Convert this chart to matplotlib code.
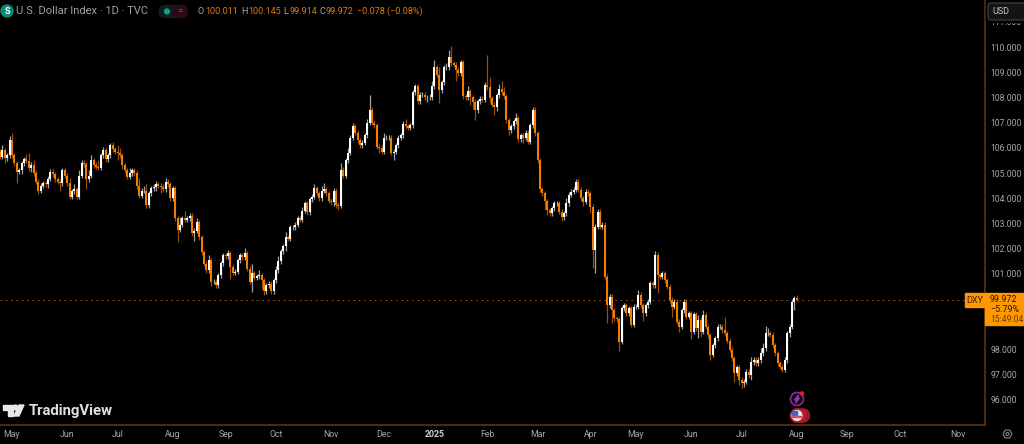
import matplotlib
matplotlib.use('Agg')
import matplotlib.pyplot as plt
from matplotlib.patches import Circle, FancyBboxPatch, Polygon, Rectangle
import numpy as np

plt.rcParams['font.family'] = ['Roboto', 'DejaVu Sans']

# Daily closes (DXY)
closes = [
    105.65, 105.9, 105.58, 105.7, 106.3, 105.7, 105.38, 105.05, 105.1, 105.38,
    105.55, 105.48, 105.18, 105.32, 105.0, 104.65, 104.3, 104.5, 104.6, 104.55,
    104.78, 105.05, 104.95, 104.75, 104.65, 104.6, 105.1, 104.9, 104.6, 104.05,
    104.28, 104.35, 104.06, 104.9, 105.4, 105.35, 104.75, 104.9, 105.5, 105.3,
    105.25, 105.2, 105.7, 105.9, 105.55, 105.7, 106.1, 105.95, 105.85, 105.8,
    105.7, 105.3, 105.1, 104.85, 105.0, 105.1, 105.0, 104.5, 104.1, 104.3,
    104.3, 103.72, 104.2, 104.4, 104.45, 104.55, 104.5, 104.45, 104.35, 104.65,
    104.55, 104.0, 104.4, 103.2, 102.75, 102.95, 103.2, 103.15, 103.2, 103.3,
    102.6, 102.7, 103.05, 102.45, 101.85, 101.39, 101.15, 101.54, 100.68, 100.68,
    100.55, 100.95, 101.41, 101.74, 101.7, 101.81, 101.28, 101.04, 101.08, 101.54,
    101.74, 101.65, 101.81, 101.21, 100.68, 101.02, 100.85, 100.9, 100.95, 100.75,
    100.3, 100.55, 100.6, 100.3, 100.75, 101.15, 101.5, 101.9, 102.1, 102.45,
    102.4, 102.85, 102.85, 102.95, 103.2, 103.15, 103.5, 103.8, 103.45, 103.95,
    104.05, 104.4, 104.2, 104.0, 104.3, 104.35, 104.2, 103.9, 103.85, 104.3,
    103.75, 103.7, 105.1, 104.9, 105.5, 105.8, 106.4, 106.85, 106.6, 106.3,
    106.1, 106.2, 106.5, 107.0, 107.5, 107.0, 106.9, 106.05, 106.0, 105.85,
    106.4, 106.4, 106.4, 105.8, 105.85, 106.1, 106.4, 106.5, 106.95, 106.85,
    106.8, 106.9, 108.2, 108.45, 107.85, 108.1, 108.1, 108.0, 108.0, 108.0,
    108.45, 109.2, 108.9, 108.29, 108.6, 109.2, 109.2, 109.6, 109.35, 109.3,
    109.1, 108.95, 109.4, 108.05, 108.0, 108.25, 108.0, 107.83, 107.5, 107.85,
    107.95, 107.9, 108.5, 108.4, 107.96, 107.7, 107.6, 108.09, 108.35, 108.2,
    108.05, 107.1, 106.7, 106.85, 107.05, 107.17, 106.35, 106.5, 106.4, 106.6,
    106.25, 106.9, 107.5, 106.57, 105.5, 104.35, 104.2, 103.87, 103.53, 103.4,
    103.6, 103.8, 103.8, 103.47, 103.24, 103.4, 103.8, 104.13, 104.26, 104.33,
    104.66, 104.33, 103.99, 103.86, 104.26, 104.2, 103.66, 101.95, 102.87, 103.47,
    102.87, 102.95, 100.89, 99.76, 100.09, 99.56, 99.23, 99.2, 98.3, 99.63,
    99.76, 99.43, 99.63, 98.97, 99.7, 99.7, 100.16, 99.76, 99.43, 99.76,
    99.9, 100.62, 100.55, 101.75, 100.95, 100.89, 101.02, 100.75, 100.49, 99.96,
    99.7, 99.9, 99.1, 98.9, 99.56, 99.9, 99.3, 99.43, 98.7, 99.4,
    98.84, 99.17, 98.7, 99.37, 98.9, 98.57, 97.78, 98.17, 98.44, 98.9,
    98.9, 98.77, 98.64, 98.35, 97.98, 97.65, 97.05, 97.3, 96.79, 96.65,
    96.72, 97.12, 96.98, 97.5, 97.58, 97.45, 97.58, 97.84, 98.04, 98.64,
    98.64, 98.58, 98.17, 97.84, 97.45, 97.32, 97.19, 97.58, 98.64, 98.9,
    99.9, 100.03, 99.97,
]
first_open = 105.85

# Wick lengths above / below the body, same order as closes
upper_wicks = [
    0.1, 0.2, 0.1, 0.1, 0.15, 0.3, 0.1, 0.1, 0.1, 0.1,
    0.1, 0.2, 0.3, 0.1, 0.2, 0.1, 0.1, 0.1, 0.1, 0.1,
    0.1, 0.1, 0.1, 0.1, 0.1, 0.1, 0.1, 0.1, 0.1, 0.2,
    0.1, 0.2, 0.1, 0.2, 0.1, 0.1, 0.1, 0.2, 0.2, 0.1,
    0.15, 0.25, 0.1, 0.15, 0.1, 0.1, 0.1, 0.15, 0.1, 0.25,
    0.2, 0.1, 0.1, 0.1, 0.2, 0.1, 0.1, 0.1, 0.3, 0.1,
    0.2, 0.25, 0.1, 0.1, 0.1, 0.15, 0.1, 0.1, 0.1, 0.15,
    0.1, 0.1, 0.1, 0.1, 0.1, 0.3, 0.1, 0.3, 0.1, 0.1,
    0.1, 0.1, 0.15, 0.1, 0.1, 0.1, 0.1, 0.2, 0.1, 0.1,
    0.1, 0.1, 0.1, 0.1, 0.1, 0.15, 0.1, 0.1, 0.1, 0.1,
    0.1, 0.1, 0.2, 0.1, 0.1, 0.35, 0.1, 0.1, 0.2, 0.1,
    0.1, 0.1, 0.1, 0.1, 0.1, 0.15, 0.2, 0.1, 0.1, 0.2,
    0.1, 0.1, 0.1, 0.1, 0.1, 0.1, 0.15, 0.1, 0.1, 0.1,
    0.1, 0.15, 0.1, 0.1, 0.2, 0.25, 0.1, 0.1, 0.1, 0.1,
    0.1, 0.1, 0.3, 0.15, 0.1, 0.2, 0.1, 0.15, 0.1, 0.1,
    0.1, 0.1, 0.1, 0.15, 0.6, 0.1, 0.1, 0.1, 0.1, 0.1,
    0.2, 0.1, 0.1, 0.1, 0.1, 0.1, 0.1, 0.1, 0.1, 0.2,
    0.1, 0.1, 0.1, 0.1, 0.1, 0.1, 0.1, 0.1, 0.1, 0.15,
    0.2, 0.3, 0.1, 0.3, 0.1, 0.1, 0.15, 0.3, 0.45, 0.1,
    0.1, 0.1, 0.1, 0.1, 0.1, 0.2, 0.1, 0.1, 0.1, 0.1,
    0.1, 0.1, 0.1, 1.2, 0.4, 0.1, 0.1, 0.1, 0.2, 0.3,
    0.2, 0.1, 0.1, 0.1, 0.1, 0.2, 0.1, 0.1, 0.1, 0.1,
    0.1, 0.1, 0.1, 0.1, 0.1, 0.1, 0.1, 0.1, 0.1, 0.1,
    0.1, 0.1, 0.1, 0.1, 0.1, 0.1, 0.2, 0.1, 0.1, 0.1,
    0.1, 0.1, 0.1, 0.1, 0.1, 0.1, 0.1, 0.1, 0.1, 0.1,
    0.1, 0.1, 0.1, 0.1, 0.1, 0.1, 0.1, 0.1, 0.1, 0.1,
    0.1, 0.1, 0.1, 0.1, 0.1, 0.1, 0.2, 0.1, 0.1, 0.1,
    0.1, 0.1, 0.1, 0.15, 0.1, 0.1, 0.1, 0.1, 0.1, 0.1,
    0.1, 0.1, 0.1, 0.1, 0.1, 0.1, 0.1, 0.1, 0.1, 0.1,
    0.1, 0.2, 0.1, 0.2, 0.1, 0.1, 0.1, 0.1, 0.1, 0.1,
    0.1, 0.1, 0.5, 0.1, 0.1, 0.1, 0.1, 0.1, 0.1, 0.1,
    0.1, 0.1, 0.1, 0.2, 0.1, 0.1, 0.1, 0.2, 0.2, 0.3,
    0.2, 0.1, 0.1, 0.1, 0.1, 0.1, 0.1, 0.1, 0.1, 0.1,
    0.1, 0.1, 0.14,
]
lower_wicks = [
    0.1, 0.1, 0.2, 0.1, 0.1, 0.1, 0.1, 0.45, 0.1, 0.15,
    0.1, 0.1, 0.1, 0.15, 0.1, 0.1, 0.15, 0.1, 0.1, 0.1,
    0.15, 0.1, 0.1, 0.1, 0.1, 0.3, 0.1, 0.1, 0.1, 0.1,
    0.1, 0.1, 0.1, 0.1, 0.1, 0.1, 0.4, 0.1, 0.1, 0.1,
    0.1, 0.1, 0.1, 0.1, 0.1, 0.1, 0.1, 0.1, 0.1, 0.3,
    0.1, 0.15, 0.1, 0.1, 0.1, 0.1, 0.1, 0.15, 0.1, 0.1,
    0.1, 0.1, 0.1, 0.1, 0.1, 0.15, 0.1, 0.25, 0.1, 0.1,
    0.1, 0.1, 0.1, 0.1, 0.5, 0.1, 0.1, 0.1, 0.1, 0.1,
    0.1, 0.3, 0.1, 0.1, 0.1, 0.1, 0.1, 0.1, 0.15, 0.1,
    0.1, 0.1, 0.1, 0.1, 0.1, 0.1, 0.5, 0.1, 0.1, 0.1,
    0.1, 0.1, 0.1, 0.1, 0.1, 0.4, 0.1, 0.1, 0.1, 0.35,
    0.15, 0.1, 0.1, 0.1, 0.1, 0.1, 0.1, 0.1, 0.1, 0.2,
    0.1, 0.1, 0.1, 0.1, 0.1, 0.1, 0.1, 0.1, 0.1, 0.1,
    0.1, 0.1, 0.1, 0.1, 0.1, 0.1, 0.1, 0.1, 0.1, 0.15,
    0.15, 0.15, 0.1, 0.1, 0.1, 0.1, 0.1, 0.1, 0.1, 0.1,
    0.1, 0.1, 0.1, 0.1, 0.1, 0.1, 0.1, 0.1, 0.2, 0.1,
    0.1, 0.1, 0.1, 0.1, 0.3, 0.1, 0.1, 0.1, 0.1, 0.1,
    0.1, 0.1, 0.1, 0.1, 0.1, 0.1, 0.1, 0.1, 0.2, 0.1,
    0.1, 0.1, 0.1, 0.5, 0.1, 0.1, 0.1, 0.1, 0.1, 0.1,
    0.45, 0.1, 0.1, 0.1, 0.1, 0.1, 0.3, 0.3, 0.4, 0.1,
    0.1, 0.1, 0.1, 0.1, 0.2, 0.1, 0.3, 0.15, 0.1, 0.1,
    0.1, 0.1, 0.2, 0.1, 0.1, 0.1, 0.1, 0.1, 0.2, 0.1,
    0.1, 0.1, 0.1, 0.1, 0.1, 0.1, 0.1, 0.35, 0.2, 0.1,
    0.1, 0.1, 0.1, 0.1, 0.15, 0.1, 0.1, 0.1, 0.1, 0.1,
    0.1, 0.1, 0.1, 0.15, 0.1, 0.1, 0.25, 0.7, 0.9, 0.1,
    0.1, 0.1, 0.1, 0.7, 0.1, 0.5, 0.1, 0.1, 0.35, 0.1,
    0.1, 0.1, 0.1, 0.1, 0.1, 0.1, 0.1, 0.1, 0.3, 0.1,
    0.1, 0.1, 0.1, 0.1, 0.7, 0.1, 0.1, 0.1, 0.1, 0.1,
    0.4, 0.1, 0.1, 0.2, 0.1, 0.1, 0.1, 0.1, 0.3, 0.1,
    0.1, 0.4, 0.2, 0.1, 0.1, 0.1, 0.2, 0.1, 0.1, 0.1,
    0.1, 0.1, 0.1, 0.1, 0.1, 0.1, 0.35, 0.1, 0.2, 0.2,
    0.15, 0.1, 0.1, 0.2, 0.1, 0.1, 0.1, 0.1, 0.1, 0.1,
    0.1, 0.1, 0.1, 0.1, 0.1, 0.1, 0.1, 0.1, 0.1, 0.15,
    0.1, 0.35, 0.06,
]

# Bar index under each month label
month_bars = [5, 28, 49, 72, 94, 115, 138, 160, 181, 203, 224, 246, 265, 288, 309, 332, 353, 375, 399]
month_labels = ['May', 'Jun', 'Jul', 'Aug', 'Sep', 'Oct', 'Nov', 'Dec', '2025', 'Feb',
                'Mar', 'Apr', 'May', 'Jun', 'Jul', 'Aug', 'Sep', 'Oct', 'Nov']
# 99 and 100 sit under the last price tag, 111 is half under the currency box
price_ticks = [96, 97, 98, 101, 102, 103, 104, 105, 106, 107, 108, 109, 110, 111]

last_price = 99.972
ORANGE = '#f57c00'
TAG = '#ff9800'
AXIS_LINE = '#5c3608'
GREY = '#a8a8a8'

close_arr = np.array(closes)
open_arr = np.concatenate([[first_open], close_arr[:-1]])
high_arr = np.maximum(open_arr, close_arr) + np.array(upper_wicks)
low_arr = np.minimum(open_arr, close_arr) - np.array(lower_wicks)
bars = np.arange(len(closes))
up = close_arr >= open_arr

fig = plt.figure(figsize=(10.24, 4.44), dpi=100, facecolor='black')
ax = fig.add_axes([0, 19 / 444, 984.5 / 1024, 425 / 444], facecolor='black')

# Candles
ax.vlines(bars[up], low_arr[up], high_arr[up], color='#a0a0a0', lw=0.9, zorder=2)
ax.vlines(bars[~up], low_arr[~up], high_arr[~up], color='#94500c', lw=0.9, zorder=2)
ax.bar(bars[up], (close_arr - open_arr)[up], bottom=open_arr[up], width=0.9, color='white', zorder=3)
ax.bar(bars[~up], (close_arr - open_arr)[~up], bottom=open_arr[~up], width=0.9, color=ORANGE, zorder=3)

ax.axhline(last_price, color=ORANGE, lw=0.7, ls=(0, (1.5, 4)), alpha=0.75, zorder=1)

ax.set_xlim(0, 984.5 / 2.4)
ax.set_ylim(110 - 378 / 25.2, 110 + 47 / 25.2)
ax.set_xticks(month_bars)
ax.set_xticklabels(month_labels)
ax.yaxis.tick_right()
ax.set_yticks(price_ticks)
ax.set_yticklabels([f'{p:.3f}' for p in price_ticks])
ax.tick_params(axis='x', length=0, colors=GREY, labelsize=6.3, pad=3.5)
ax.tick_params(axis='y', length=0, colors=GREY, labelsize=6.2, pad=4.5)
ax.get_xticklabels()[8].set_color('#d0d0d0')
ax.get_xticklabels()[8].set_fontweight('bold')
for name in ['top', 'left']:
    ax.spines[name].set_visible(False)
for name in ['right', 'bottom']:
    ax.spines[name].set_color(AXIS_LINE)
    ax.spines[name].set_linewidth(1.2)

# Everything else sits in figure pixels, y measured from the top
over = fig.add_axes([0, 0, 1, 1], facecolor='none')
over.set_xlim(0, 1024)
over.set_ylim(444, 0)
over.axis('off')

# Header
over.add_patch(Circle((7, 11), 6, color='#10867a'))
over.text(7, 11.5, 'S', color='white', fontsize=6.5, fontweight='bold', ha='center', va='center')
over.text(16.5, 11.5, 'U.S. Dollar Index · 1D · TVC', color='#a0a0a0', fontsize=8, va='center')
over.add_patch(FancyBboxPatch((159, 5.5), 28, 12, boxstyle='round,pad=0,rounding_size=6', color='#0c1f1d'))
over.add_patch(FancyBboxPatch((173, 5.5), 14, 12, boxstyle='round,pad=0,rounding_size=5', color='#2a0a18'))
over.add_patch(Circle((167, 11.5), 2.4, color='#12a08c'))
over.text(179.5, 11.5, '=', color='#d02060', fontsize=7, ha='center', va='center')
ohlc_parts = [(198, 'O', GREY), (205, '100.011', '#e07a10'), (241, 'H', GREY), (248, '100.145', '#e07a10'),
              (283, 'L', GREY), (289, '99.914', '#e07a10'), (319, 'C', GREY), (326, '99.972', '#e07a10'),
              (357, '−0.078 (−0.08%)', '#e07a10')]
for px, part, col in ohlc_parts:
    over.text(px, 11.5, part, color=col, fontsize=6.5, va='center')

# Currency box, hides the upper part of the 111 tick
over.add_patch(Rectangle((986, 0), 38, 22.5, color='black', zorder=4))
over.add_patch(FancyBboxPatch((988, 3), 40, 17, boxstyle='round,pad=0,rounding_size=3',
                              fc='#141414', ec='#444444', lw=0.8, zorder=5))
over.text(992, 11.5, 'USD', color='#c8c8c8', fontsize=6.5, va='center', zorder=6)

# Last price tag
over.add_patch(Rectangle((965, 293), 19, 13.5, color=TAG, zorder=5))
over.text(974.5, 300, 'DXY', color='#402000', fontsize=6.5, ha='center', va='center', zorder=6)
over.add_patch(Rectangle((985, 293), 39, 32, color=TAG, zorder=5))
over.text(990, 299.5, '99.972', color='#2a1500', fontsize=6.4, va='center', zorder=6)
over.text(990, 309.5, '−5.79%', color='#2a1500', fontsize=6.4, va='center', zorder=6)
over.text(990, 319.5, '15:49:04', color='#6b3c05', fontsize=6.2, va='center', zorder=6)

# TradingView logo
over.add_patch(Polygon([(3, 405), (13, 405), (13, 416), (8, 416), (8, 410), (3, 410)], color='#e8e8e8'))
over.add_patch(Circle((15.5, 407.5), 2.4, color='#e8e8e8'))
over.add_patch(Polygon([(24, 405), (19, 405), (14, 416), (19, 416)], color='#e8e8e8'))
over.text(28.5, 410.5, 'TradingView', color='#e0e0e0', fontsize=10.7, fontweight='bold', va='center')

# Event markers under the last candle
over.add_patch(Circle((797, 399), 6.5, fc='#120812', ec='#7a2c96', lw=1.3))
over.add_patch(Polygon([(798.5, 395), (794.5, 400), (797, 400), (795.5, 403), (799.5, 398), (797, 398)],
                       color='#8a3aa8'))
over.add_patch(Circle((802, 393.5), 1.6, color='#e02020'))
for cx, col in [(803, '#8c1a24'), (800, '#a81e2a')]:
    over.add_patch(Circle((cx, 415.5), 6.5, fc=col, ec='#b01c2a', lw=1))
over.add_patch(Circle((797, 415.5), 6.5, fc='#e8e8f4', ec='#b01c2a', lw=1.3))
over.add_patch(Rectangle((792, 410.5), 5, 4.5, color='#3a68c8'))
over.add_patch(Rectangle((792, 416), 10, 1.3, color='#d85060'))

# Settings gear
hex_angles = np.deg2rad(np.arange(0, 360, 60))
over.add_patch(Polygon(np.column_stack([1007.5 + 4.5 * np.cos(hex_angles), 434 + 4.5 * np.sin(hex_angles)]),
                       fill=False, ec='#888888', lw=0.8))
over.add_patch(Circle((1007.5, 434), 1.5, fill=False, ec='#888888', lw=0.8))

fig.savefig('out.png', dpi=100, facecolor='black')
